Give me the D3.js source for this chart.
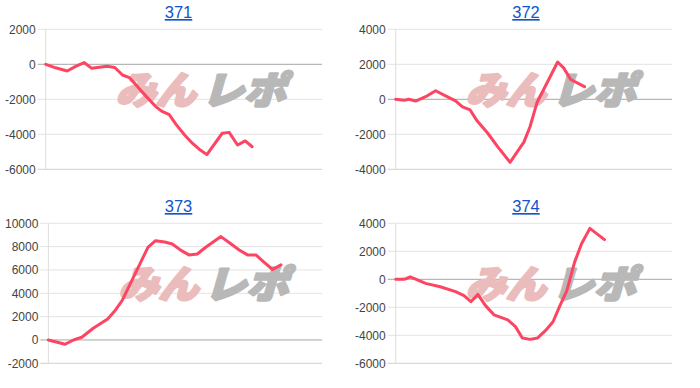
<!DOCTYPE html>
<html>
<head>
<meta charset="utf-8">
<script src="https://cdnjs.cloudflare.com/ajax/libs/d3/7.8.5/d3.min.js"></script>
<style>
  body { margin: 0; background: #fff; }
  svg text { font-family: Arial, 'Liberation Sans', sans-serif; }
  svg text.wm { font-family: 'Noto Sans CJK JP', sans-serif; font-weight: 900; font-size: 38px; stroke-width: 2.6px; stroke-linejoin: round; }
</style>
</head>
<body>
<div class="js-board"></div>
<script>
var titles = ['371', '372', '373', '374'];

var yDomains = [[-6000, 2000], [-4000, 4000], [-2000, 10000], [-6000, 4000]];

var yTicks = [
  [2000, 0, -2000, -4000, -6000],
  [4000, 2000, 0, -2000, -4000],
  [10000, 8000, 6000, 4000, 2000, 0, -2000],
  [4000, 2000, 0, -2000, -4000, -6000]
];

var xMax = 36;

// [x, value] pairs
var s371 = [[0,0],[1.3,-200],[2.8,-380],[3.9,-120],[5,100],[6,-230],[7,-170],[8,-115],[9,-180],
  [10,-610],[10.9,-760],[12,-1300],[13,-1790],[14.3,-2400],[15.1,-2680],[16.1,-2880],[17,-3450],
  [18.1,-4040],[19.1,-4510],[20,-4850],[21,-5160],[23,-3940],[23.9,-3890],[25,-4610],[26,-4380],[26.9,-4710]];

var s372 = [[0,0],[1.1,-60],[1.7,0],[2.6,-100],[3.9,150],[5.2,490],[6.5,200],[7.8,-90],[8.7,-430],
  [9.7,-610],[10.6,-1230],[12,-1940],[13.3,-2720],[14.9,-3600],[16.7,-2450],[17.5,-1570],[18.4,-200],
  [21.1,2130],[21.9,1780],[22.8,1130],[24.6,720]];

var s373 = [[0,0],[2.2,-370],[3.3,0],[4.4,230],[5.9,1000],[7.8,1800],[8.7,2460],[9.7,3370],[13.1,7940],
  [14.1,8510],[15.3,8400],[16.3,8230],[17.5,7660],[18.5,7290],[19.6,7370],[20.7,7950],[22.7,8860],
  [24,8250],[25.1,7710],[26.2,7290],[27.3,7290],[28.4,6660],[29.5,6040],[30.6,6440]];

var s374 = [[0,0],[1.1,0],[1.9,180],[3.9,-290],[5.8,-530],[7.8,-880],[8.9,-1170],[9.8,-1600],[10.7,-1080],
  [11.7,-1880],[12.8,-2540],[14.6,-2900],[15.6,-3380],[16.5,-4190],[17.5,-4290],[18.5,-4190],[19.5,-3670],
  [20.5,-3030],[21.4,-1880],[22.3,-810],[23.3,1210],[24.2,2520],[25.3,3640],[27.2,2830]];

var series = [s371, s372, s373, s374];

var svg,
  panelW = 350,
  panelH = 194,
  lineColor = '#fd4462';

function drawPanel(i) {
  var px = (i % 2) * panelW,
    py = Math.floor(i / 2) * panelH,
    top = py + 29.3,
    bottom = py + 169.3,
    right = px + 322;

  var g = svg.append('g').classed('panel', true);

  g.append('text')
    .attr('x', px + (i % 2 ? 176 : 178.5))
    .attr('y', py + 18)
    .attr('text-anchor', 'middle')
    .style('font-size', '16.5px')
    .style('fill', '#1155cc')
    .style('text-decoration', 'underline')
    .text(titles[i]);

  // labels first so the plot can start after the widest one
  var labels = g.selectAll('.ylabel')
    .data(yTicks[i])
    .enter()
    .append('text')
    .classed('ylabel', true)
    .style('font-size', '12px')
    .style('fill', '#444')
    .attr('text-anchor', 'end')
    .attr('dy', '0.35em')
    .text(function(d) { return d });

  var maxW = d3.max(labels.nodes(), function(n) { return n.getComputedTextLength() });
  var left = px + 15 + maxW;

  var x = d3.scaleLinear().domain([0, xMax]).range([left, right]);
  var y = d3.scaleLinear().domain(yDomains[i]).range([bottom, top]);

  labels.attr('x', left - 10).attr('y', function(d) { return y(d) });

  g.insert('g', '.ylabel')
    .selectAll('line')
    .data(yTicks[i])
    .enter()
    .append('line')
    .attr('x1', left - 8)
    .attr('x2', right)
    .attr('y1', function(d) { return y(d) })
    .attr('y2', function(d) { return y(d) })
    .attr('stroke', function(d) { return d === 0 ? '#a6a6a6' : (d === yDomains[i][0] ? '#cfcfcf' : '#e3e3e3') })
    .attr('stroke-width', 1);

  g.append('line')
    .attr('x1', left).attr('x2', left)
    .attr('y1', top).attr('y2', bottom)
    .attr('stroke', '#dedede');

  // watermark
  var wm = g.append('g')
    .attr('transform', 'translate(' + (left + 70) + ',' + (top + 75) + ') skewX(-16)');

  wm.append('text')
    .classed('wm', true)
    .attr('x', 0)
    .attr('y', 0)
    .attr('textLength', 80)
    .attr('lengthAdjust', 'spacingAndGlyphs')
    .style('fill', '#ebbcbc')
    .style('stroke', '#ebbcbc')
    .text('みん');

  wm.append('text')
    .classed('wm', true)
    .attr('x', 86)
    .attr('y', 0)
    .attr('textLength', 84)
    .attr('lengthAdjust', 'spacingAndGlyphs')
    .style('fill', '#b8b8b8')
    .style('stroke', '#b8b8b8')
    .text('レポ');

  var line = d3.line()
    .x(function(d) { return x(d[0]) })
    .y(function(d) { return y(d[1]) });

  g.append('path')
    .datum(series[i])
    .attr('d', line)
    .attr('fill', 'none')
    .attr('stroke', lineColor)
    .attr('stroke-width', 3)
    .attr('stroke-linejoin', 'round')
    .attr('stroke-linecap', 'round');
}

function start() {
  svg = d3.select('.js-board')
    .append('svg')
    .attr('width', 700)
    .attr('height', 388);

  titles.forEach(function(t, i) { drawPanel(i) });
}

start();
</script>
</body>
</html>
